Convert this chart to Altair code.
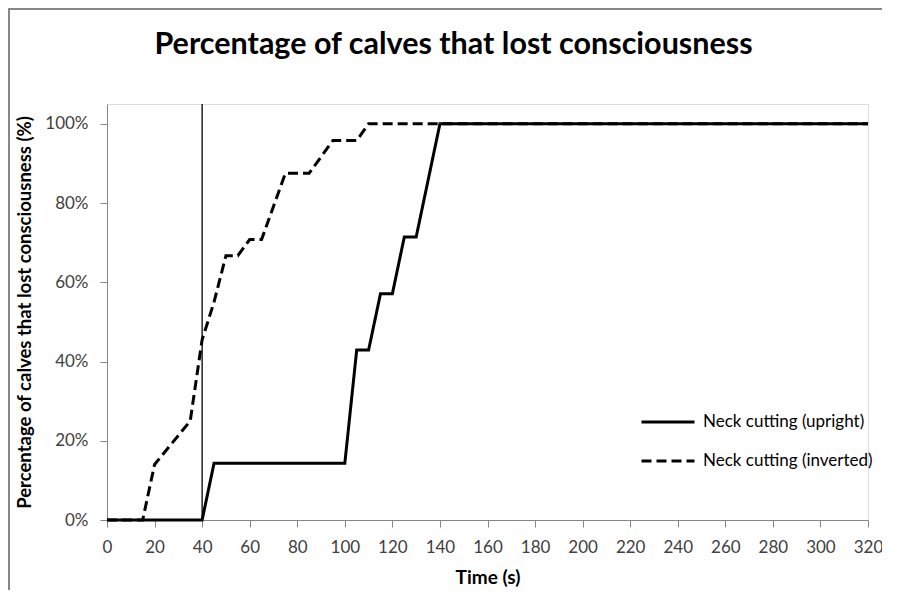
import altair as alt
import pandas as pd

# ---- data ----
series_names = ["Neck cutting (upright)", "Neck cutting (inverted)"]
upright_time = [0, 40, 45, 100, 105, 110, 115, 120, 125, 130, 140, 320]
upright_pct = [0, 0, 14.3, 14.3, 42.9, 42.9, 57.1, 57.1, 71.4, 71.4, 100, 100]
inverted_time = [0, 15, 20, 35, 40, 45, 50, 55, 60, 65, 75, 85, 95, 105, 110, 320]
inverted_pct = [0, 0, 14, 25, 45.5, 55, 66.7, 66.7, 70.8, 70.8, 87.5, 87.5, 95.8, 95.8, 100, 100]
marker_time = [40]
x_ticks = list(range(0, 321, 20))
y_ticks = [0, 20, 40, 60, 80, 100]

rows = []
for t, p in zip(upright_time, upright_pct):
    rows.append({"time": t, "pct": p, "series": series_names[0]})
for t, p in zip(inverted_time, inverted_pct):
    rows.append({"time": t, "pct": p, "series": series_names[1]})
df = pd.DataFrame(rows)
marker_df = pd.DataFrame({"time": marker_time})

FONT = "Lato"
AXIS_GRAY = "#868686"

x_enc = alt.X(
    "time:Q",
    scale=alt.Scale(domain=[0, 320], nice=False, zero=False),
    axis=alt.Axis(
        values=x_ticks,
        title="Time (s)",
        titleFont=FONT, titleFontSize=19, titleFontWeight="bold", titleColor="black",
        titleAlign="center", titleBaseline="alphabetic", titleX=380.5, titleY=63,
        labelFont=FONT, labelFontSize=17, labelColor="#404040", labelPadding=12,
        labelFlush=False, labelOverlap=False,
        domainColor=AXIS_GRAY, tickColor=AXIS_GRAY, tickSize=7, grid=False,
    ),
)
y_enc = alt.Y(
    "pct:Q",
    scale=alt.Scale(domain=[0, 105], nice=False),
    axis=alt.Axis(
        values=y_ticks,
        labelExpr="datum.value + '%'",
        title="Percentage of calves that lost consciousness (%)",
        titleFont=FONT, titleFontSize=18.5, titleFontWeight="bold", titleColor="black",
        titleAngle=270, titleAlign="center", titleBaseline="alphabetic",
        titleX=-77, titleY=208,
        labelFont=FONT, labelFontSize=17, labelColor="#404040", labelPadding=12,
        labelFlush=False,
        domainColor=AXIS_GRAY, tickColor=AXIS_GRAY, tickSize=7, grid=False,
    ),
)

lines = alt.Chart(df).mark_line(strokeWidth=3, color="black", strokeCap="butt").encode(
    x=x_enc,
    y=y_enc,
    strokeDash=alt.StrokeDash(
        "series:N",
        scale=alt.Scale(domain=series_names, range=[[1, 0], [10, 5]]),
        legend=alt.Legend(
            title=None, orient="none", legendX=533, legendY=290,
            symbolType="stroke", symbolSize=2809, symbolStrokeWidth=3,
            symbolStrokeColor="black", labelFont=FONT, labelFontSize=17,
            labelColor="black", labelOffset=7, rowPadding=3, padding=0,
            labelLimit=400,
        ),
    ),
)

marker = alt.Chart(marker_df).mark_rule(color="black", strokeWidth=1.3).encode(x="time:Q")

# chart-area frame (only its left and top edges fall inside the page, as in the reference)
frame = alt.Chart(marker_df).mark_rect(
    fill="transparent", stroke="#878787", strokeWidth=2
).encode(
    x=alt.value(-98), x2=alt.value(1000), y=alt.value(-95), y2=alt.value(700)
)

chart = alt.layer(frame, marker, lines).properties(
    width=761,
    height=416,
    autosize=alt.AutoSizeParams(type="none"),
    padding={"left": 99, "top": 96, "right": 14, "bottom": 70},
    title=alt.TitleParams(
        text="Percentage of calves that lost consciousness",
        font=FONT, fontSize=30.5, fontWeight="bold", color="black",
        anchor="middle", dx=-34, offset=-76, baseline="alphabetic",
    ),
).configure_view(stroke=None).configure(background="white")

chart.save("out.html", embed_options={"renderer": "svg", "actions": False})
